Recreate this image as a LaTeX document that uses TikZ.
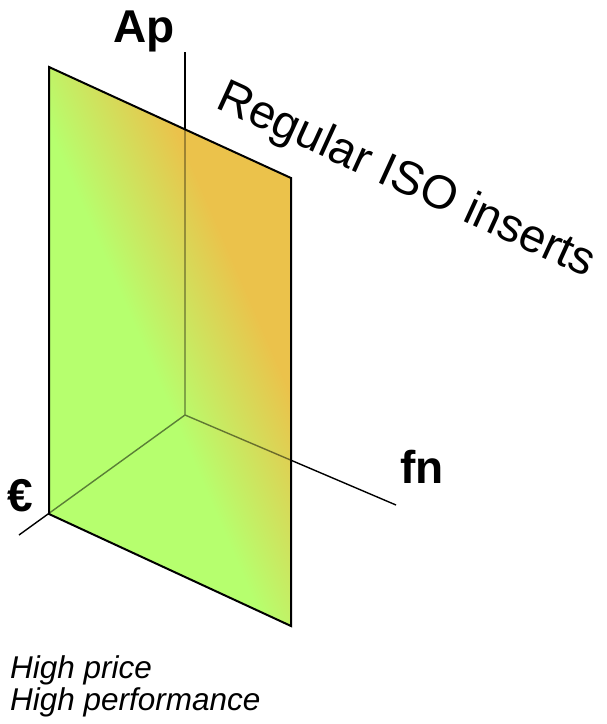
\documentclass[tikz,border=0pt]{standalone}
\usepackage{fontspec}
\setmainfont{Liberation Sans}
\definecolor{plgreen}{RGB}{182,255,110}
\definecolor{plorange}{RGB}{235,194,75}
\begin{document}
\begin{tikzpicture}[x=1pt,y=-1pt,
  axis/.style={line width=1.4pt, black},
  axisover/.style={line width=1.4pt, black, draw opacity=0.5},
  edge/.style={line width=2pt, black, line join=miter},
  lbl/.style={inner sep=0pt, font=\fontsize{46}{55}\selectfont\bfseries},
  rlbl/.style={inner sep=0pt, font=\fontsize{47}{56}\selectfont},
  note/.style={inner sep=0pt, anchor=base west, font=\fontsize{31.5}{34}\selectfont\itshape}]
\useasboundingbox (0,0) rectangle (607,724);
\coordinate (O) at (185,415);
\coordinate (Atop) at (185,52);
\coordinate (Fend) at (396,505);
\coordinate (Eend) at (19,535);
\coordinate (TL) at (49,67);
\coordinate (TR) at (291,178);
\coordinate (BR) at (291,626);
\coordinate (BL) at (49,514);
% axes behind the plane
\draw[axis] (O) -- (Atop);
\draw[axis] (O) -- (Fend);
\draw[axis] (O) -- (Eend);
% plane with gradient
\begin{scope}
  \clip (TL) -- (TR) -- (BR) -- (BL) -- cycle;
  \fill[plgreen] (0,0) rectangle (607,724);
  \begin{scope}[transform canvas={rotate around={23.45:(TL)}}]
    \shade[left color=plgreen, right color=plorange] ([shift={(-25,-900)}]TL) rectangle ([shift={(92,900)}]TL);
    \fill[plorange] ([shift={(91.5,-900)}]TL) rectangle ([shift={(700,900)}]TL);
  \end{scope}
  \draw[axisover] (O) -- (Atop) (O) -- (Fend) (O) -- (Eend);
\end{scope}
\draw[edge] (TL) -- (TR) -- (BR) -- (BL) -- cycle;
% labels
\node[lbl, anchor=base] (ap) at (144,42) {Ap};
\node[lbl, anchor=base] (fn) at (422,483) {fn};
\node[lbl, anchor=base] (eur) at (20,511) {€};
\node[rlbl, anchor=base west, rotate=-24.6] (reg) at (214,107) {Regular ISO inserts};
\node[note] (hp1) at (10,678) {High price};
\node[note] (hp2) at (10,710) {High performance};
\end{tikzpicture}
\end{document}
